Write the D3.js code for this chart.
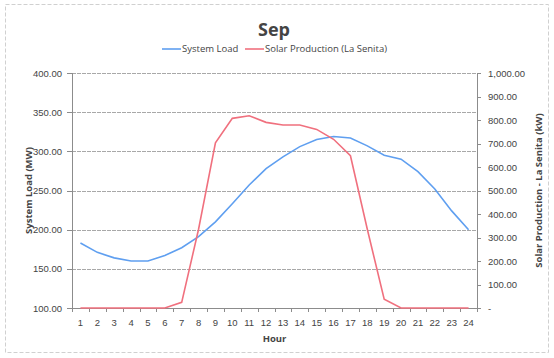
<!DOCTYPE html>
<html>
<head>
<meta charset='UTF-8' />
<style>
	body { margin: 0; background: #ffffff; font-family: 'Open Sans', 'Noto Sans', sans-serif; }
	.grid line { stroke: #a8a8a8; stroke-width: 1px; stroke-dasharray: 4,1; shape-rendering: crispEdges; }
	.axis path, .axis line { stroke: #8c8c8c; fill: none; shape-rendering: crispEdges; }
	.axis text { fill: #444444; font-size: 9.5px; }
</style>
</head>
<body>
<script src='https://d3js.org/d3.v7.min.js'></script>
<script>
'use strict';
const hours = d3.range(1, 25);
const systemLoad = [183, 171, 164, 160, 160, 167, 177, 191, 210, 233, 257, 278,
	293, 306, 315, 319, 317, 307, 295, 290, 274, 252, 224, 200];
const solarProduction = [0, 0, 0, 0, 0, 0, 24, 335, 703, 807, 818, 790,
	779, 779, 760, 718, 648, 335, 37, 0, 0, 0, 0, 0];
const leftTicks = [100, 150, 200, 250, 300, 350, 400];
const rightTicks = [0, 100, 200, 300, 400, 500, 600, 700, 800, 900, 1000];

const width = 554, height = 358;
const margin = {top: 73, right: 77, bottom: 50, left: 72};
const innerW = width - margin.left - margin.right;
const innerH = height - margin.top - margin.bottom;

const svg = d3.select('body').append('svg')
	.attr('width', width)
	.attr('height', height);

// chart area border
svg.append('rect')
	.attr('x', 5.5).attr('y', 4.5)
	.attr('width', 543).attr('height', 348)
	.attr('fill', 'none')
	.attr('stroke', '#d0d0d0')
	.attr('stroke-dasharray', '4,2');

const g = svg.append('g')
	.attr('transform', 'translate(' + margin.left + ',' + margin.top + ')');

const x = d3.scaleBand().domain(hours).range([0, innerW]);
const yL = d3.scaleLinear().domain([100, 400]).range([innerH, 0]);
const yR = d3.scaleLinear().domain([0, 1000]).range([innerH, 0]);

// horizontal grid
g.append('g')
	.attr('class', 'grid')
	.selectAll('line')
	.data(leftTicks.slice(1))
	.enter().append('line')
	.attr('x1', 0).attr('x2', innerW)
	.attr('y1', d => Math.round(yL(d)) + 0.5)
	.attr('y2', d => Math.round(yL(d)) + 0.5);

const fmt = d3.format(',.2f');

// left axis
const la = g.append('g')
	.attr('class', 'axis')
	.call(d3.axisLeft(yL).tickValues(leftTicks).tickFormat(fmt).tickSize(5).tickPadding(5));
la.select('.domain').attr('d', 'M0.5,' + innerH + 'V0');

// right axis
const ra = g.append('g')
	.attr('class', 'axis')
	.attr('transform', 'translate(' + innerW + ',0)')
	.call(d3.axisRight(yR).tickValues(rightTicks)
		.tickFormat(d => d === 0 ? '-' : fmt(d)).tickSize(4).tickPadding(7));
ra.select('.domain').attr('d', 'M0.5,' + innerH + 'V0');

// bottom axis
const xa = g.append('g')
	.attr('class', 'axis')
	.attr('transform', 'translate(0,' + innerH + ')')
	.call(d3.axisBottom(x).tickSize(0).tickPadding(11));
xa.select('.domain').attr('d', 'M0,0.5H' + innerW);
xa.selectAll('.boundary')
	.data(d3.range(0, 25))
	.enter().append('line')
	.attr('class', 'boundary')
	.attr('x1', i => Math.round(i * x.step()) + 0.5)
	.attr('x2', i => Math.round(i * x.step()) + 0.5)
	.attr('y1', 0).attr('y2', 4)
	.attr('stroke', '#8c8c8c');

const cx = d => x(d) + x.bandwidth() / 2;

g.append('path')
	.datum(hours)
	.attr('fill', 'none')
	.attr('stroke', '#5f9ff0')
	.attr('stroke-width', 1.6)
	.attr('d', d3.line().x(cx).y((d, i) => yL(systemLoad[i])));

g.append('path')
	.datum(hours)
	.attr('fill', 'none')
	.attr('stroke', '#f0707e')
	.attr('stroke-width', 1.6)
	.attr('d', d3.line().x(cx).y((d, i) => yR(solarProduction[i])));

// titles
svg.append('text')
	.attr('x', 274).attr('y', 36)
	.attr('text-anchor', 'middle')
	.attr('font-size', '18px').attr('font-weight', 'bold')
	.attr('fill', '#444444')
	.text('Sep');

svg.append('text')
	.attr('x', margin.left + innerW / 2).attr('y', 342)
	.attr('text-anchor', 'middle')
	.attr('font-size', '9.5px').attr('font-weight', 'bold')
	.attr('fill', '#444444')
	.text('Hour');

svg.append('text')
	.attr('transform', 'translate(32,' + (margin.top + innerH / 2) + ') rotate(-90)')
	.attr('text-anchor', 'middle')
	.attr('font-size', '9.5px').attr('font-weight', 'bold')
	.attr('fill', '#444444')
	.text('System Load (MW)');

svg.append('text')
	.attr('transform', 'translate(542,' + (margin.top + innerH / 2) + ') rotate(-90)')
	.attr('text-anchor', 'middle')
	.attr('font-size', '9.5px').attr('font-weight', 'bold')
	.attr('fill', '#444444')
	.text('Solar Production - La Senita (kW)');

// legend
const legend = [
	{name: 'System Load', color: '#5f9ff0', x: 162},
	{name: 'Solar Production (La Senita)', color: '#f0707e', x: 245}
];
const lg = svg.append('g').selectAll('g')
	.data(legend)
	.enter().append('g')
	.attr('transform', d => 'translate(' + d.x + ',52)');
lg.append('line')
	.attr('x1', 0).attr('x2', 19)
	.attr('y1', -3).attr('y2', -3)
	.attr('stroke', d => d.color)
	.attr('stroke-width', 1.6);
lg.append('text')
	.attr('x', 20).attr('y', 0)
	.attr('font-size', '9.5px')
	.attr('fill', '#444444')
	.text(d => d.name);
</script>
</body>
</html>
